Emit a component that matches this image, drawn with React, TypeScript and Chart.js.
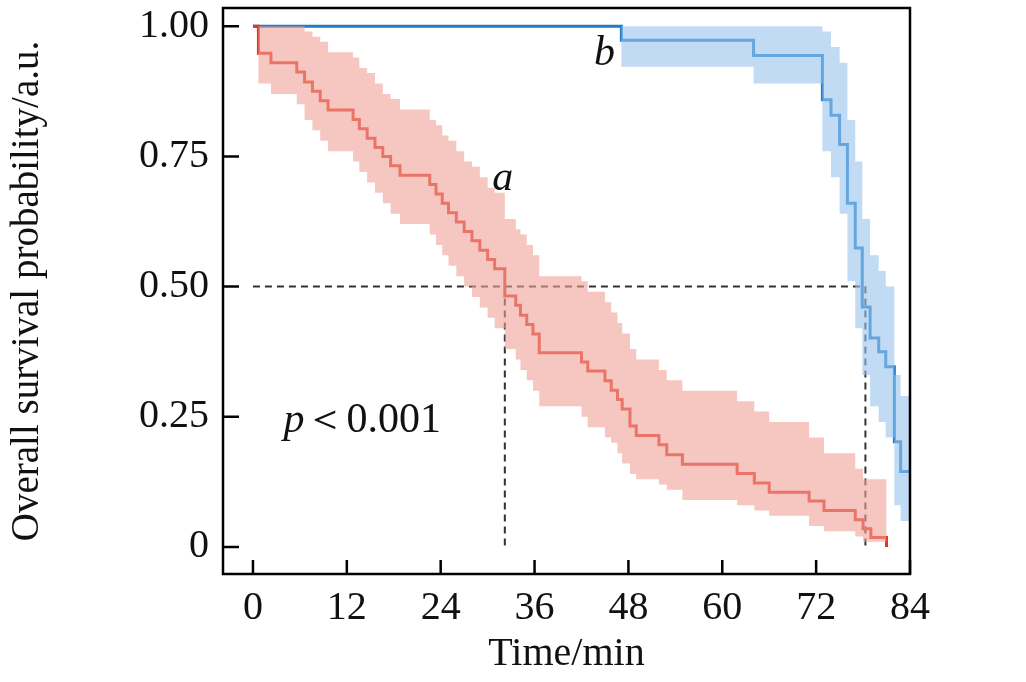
import React, { useEffect, useRef } from "react";
import { Chart, registerables } from "chart.js";
Chart.register(...registerables);

const redT = [0, 0.7, 2.3, 5.6, 6.6, 7.6, 8.6, 9.6, 12.8, 13.6, 14.6, 15.6, 16.6, 17.6, 18.8, 22.6, 23.4, 24.2, 25.0, 26.0, 27.0, 28.0, 29.0, 30.0, 30.9, 32.2, 33.6, 34.2, 35.0, 35.8, 36.6, 42.0, 42.8, 45.0, 45.8, 46.6, 47.2, 48.2, 49.0, 51.9, 52.9, 54.9, 61.9, 64.1, 66.0, 71.1, 73.0, 77.0, 78.0, 79.0, 81.0];
const redS = [1, 0.948, 0.930, 0.912, 0.893, 0.875, 0.857, 0.839, 0.821, 0.803, 0.785, 0.767, 0.750, 0.732, 0.714, 0.696, 0.678, 0.660, 0.642, 0.624, 0.606, 0.588, 0.570, 0.552, 0.534, 0.482, 0.464, 0.445, 0.427, 0.409, 0.373, 0.355, 0.338, 0.319, 0.301, 0.283, 0.265, 0.232, 0.214, 0.196, 0.177, 0.159, 0.141, 0.123, 0.105, 0.088, 0.070, 0.052, 0.035, 0.018, 0.0];
const redHi = [1, 1, 1, 1, 0.99, 0.98, 0.97, 0.95, 0.94, 0.92, 0.91, 0.89, 0.87, 0.86, 0.84, 0.82, 0.81, 0.79, 0.78, 0.76, 0.74, 0.73, 0.71, 0.69, 0.68, 0.63, 0.61, 0.60, 0.58, 0.56, 0.52, 0.51, 0.49, 0.47, 0.45, 0.43, 0.41, 0.38, 0.36, 0.34, 0.32, 0.30, 0.28, 0.26, 0.24, 0.21, 0.18, 0.15, 0.13, 0.13, 0.13];
const redLo = [1, 0.89, 0.87, 0.85, 0.82, 0.80, 0.78, 0.76, 0.74, 0.72, 0.70, 0.68, 0.66, 0.64, 0.62, 0.60, 0.58, 0.56, 0.54, 0.52, 0.50, 0.48, 0.46, 0.44, 0.42, 0.38, 0.36, 0.34, 0.32, 0.30, 0.27, 0.25, 0.23, 0.21, 0.20, 0.18, 0.16, 0.14, 0.13, 0.12, 0.11, 0.09, 0.08, 0.07, 0.06, 0.04, 0.03, 0.02, 0.01, 0.01, 0.01];

const blueT = [0, 47.1, 64.0, 72.8, 73.9, 75.0, 76.0, 77.0, 77.9, 78.9, 80.0, 80.9, 82.0, 82.8, 84.0];
const blueS = [1, 0.973, 0.944, 0.859, 0.829, 0.773, 0.660, 0.574, 0.461, 0.401, 0.375, 0.346, 0.202, 0.145, 0.145];
const blueHi = [1, 1, 1, 0.99, 0.96, 0.93, 0.82, 0.74, 0.63, 0.56, 0.53, 0.50, 0.33, 0.29, 0.29];
const blueLo = [1, 0.922, 0.89, 0.76, 0.71, 0.64, 0.51, 0.42, 0.33, 0.27, 0.24, 0.21, 0.08, 0.05, 0.05];

const xTicks = [0, 12, 24, 36, 48, 60, 72, 84];
const yTicks = [0, 0.25, 0.5, 0.75, 1];
const yTickLabels = ["0", "0.25", "0.50", "0.75", "1.00"];
const medianRed = 32.2;
const medianBlue = 78.3;

const pts = (t: number[], s: number[]) => t.map((x, i) => ({ x, y: s[i] }));
const FONT = "'Liberation Serif', 'DejaVu Serif', serif";

const framePlugin = {
  id: "frame",
  afterDraw(chart: any) {
    const { ctx, chartArea: a, scales } = chart;
    ctx.save();
    ctx.strokeStyle = "#000";
    ctx.lineWidth = 2.5;
    ctx.strokeRect(a.left, a.top, a.right - a.left, a.bottom - a.top);
    ctx.beginPath();
    xTicks.forEach((v) => {
      const x = scales.x.getPixelForValue(v);
      ctx.moveTo(x, a.bottom);
      ctx.lineTo(x, a.bottom - 14);
    });
    yTicks.forEach((v) => {
      const y = scales.y.getPixelForValue(v);
      ctx.moveTo(a.left, y);
      ctx.lineTo(a.left + 16, y);
    });
    ctx.stroke();
    ctx.fillStyle = "#111";
    ctx.font = `italic 42px ${FONT}`;
    ctx.textAlign = "left";
    ctx.textBaseline = "alphabetic";
    ctx.fillText("a", scales.x.getPixelForValue(30.6), scales.y.getPixelForValue(0.685));
    ctx.fillText("b", scales.x.getPixelForValue(43.6), scales.y.getPixelForValue(0.925));
    const px = scales.x.getPixelForValue(3.9);
    const py = scales.y.getPixelForValue(0.22);
    ctx.fillText("p", px, py);
    const w = ctx.measureText("p").width;
    ctx.font = `42px ${FONT}`;
    ctx.fillText("\uFF1C0.001", px + w, py);
    ctx.restore();
  },
};

export default function App() {
  const ref = useRef<HTMLCanvasElement>(null);
  useEffect(() => {
    const dash = { borderColor: "#333", borderWidth: 2, borderDash: [7, 5], pointRadius: 0, fill: false };
    const chart = new Chart(ref.current!, {
      type: "line",
      data: {
        datasets: [
          { data: pts(redT, redHi), stepped: true, borderWidth: 0, pointRadius: 0, fill: "+1", backgroundColor: "rgba(240,160,150,0.6)" },
          { data: pts(redT, redLo), stepped: true, borderWidth: 0, pointRadius: 0, fill: false },
          { data: pts(blueT, blueHi), stepped: true, borderWidth: 0, pointRadius: 0, fill: "+1", backgroundColor: "rgba(150,195,235,0.6)" },
          { data: pts(blueT, blueLo), stepped: true, borderWidth: 0, pointRadius: 0, fill: false },
          { data: pts(redT, redS), stepped: true, borderColor: "#e03424", borderWidth: 3, pointRadius: 0, fill: false },
          { data: pts(blueT, blueS), stepped: true, borderColor: "#1f7ccc", borderWidth: 3, pointRadius: 0, fill: false },
          { data: [{ x: 0, y: 0.5 }, { x: medianBlue, y: 0.5 }], ...dash },
          { data: [{ x: medianRed, y: 0.5 }, { x: medianRed, y: 0 }], ...dash },
          { data: [{ x: medianBlue, y: 0.5 }, { x: medianBlue, y: 0 }], ...dash },
        ] as any,
      },
      options: {
        animation: false,
        responsive: false,
        events: [],
        layout: { padding: { top: 8, right: 116, left: 0, bottom: 0 } },
        plugins: { legend: { display: false }, tooltip: { enabled: false } },
        scales: {
          x: {
            type: "linear",
            min: -3.83,
            max: 84,
            afterBuildTicks: (s: any) => { s.ticks = xTicks.map((v) => ({ value: v })); },
            afterFit: (s: any) => { s.height = 108; s.paddingLeft = 0; s.paddingRight = 0; },
            grid: { display: false, drawTicks: false },
            border: { display: false },
            ticks: { color: "#111", font: { family: FONT, size: 40 }, padding: 10, maxRotation: 0 },
            title: { display: true, text: "Time/min", color: "#111", font: { family: FONT, size: 40 }, padding: { top: 6 } },
          },
          y: {
            type: "linear",
            min: -0.052,
            max: 1.035,
            afterBuildTicks: (s: any) => { s.ticks = yTicks.map((v) => ({ value: v })); },
            afterFit: (s: any) => { s.width = 223; s.paddingTop = 0; s.paddingBottom = 0; },
            grid: { display: false, drawTicks: false },
            border: { display: false },
            ticks: { color: "#111", font: { family: FONT, size: 40 }, padding: 14, callback: (v: any) => yTickLabels[yTicks.indexOf(Number(v))] ?? "" },
            title: { display: true, text: "Overall survival probability/a.u.", color: "#111", font: { family: FONT, size: 39 }, padding: { bottom: 12 } },
          },
        },
      },
      plugins: [framePlugin],
    });
    return () => chart.destroy();
  }, []);
  return (
    <div style={{ position: "fixed", left: 0, top: 0, width: 1026, height: 682, background: "#fff" }}>
      <canvas ref={ref} width={1026} height={682} style={{ width: 1026, height: 682 }} />
    </div>
  );
}
